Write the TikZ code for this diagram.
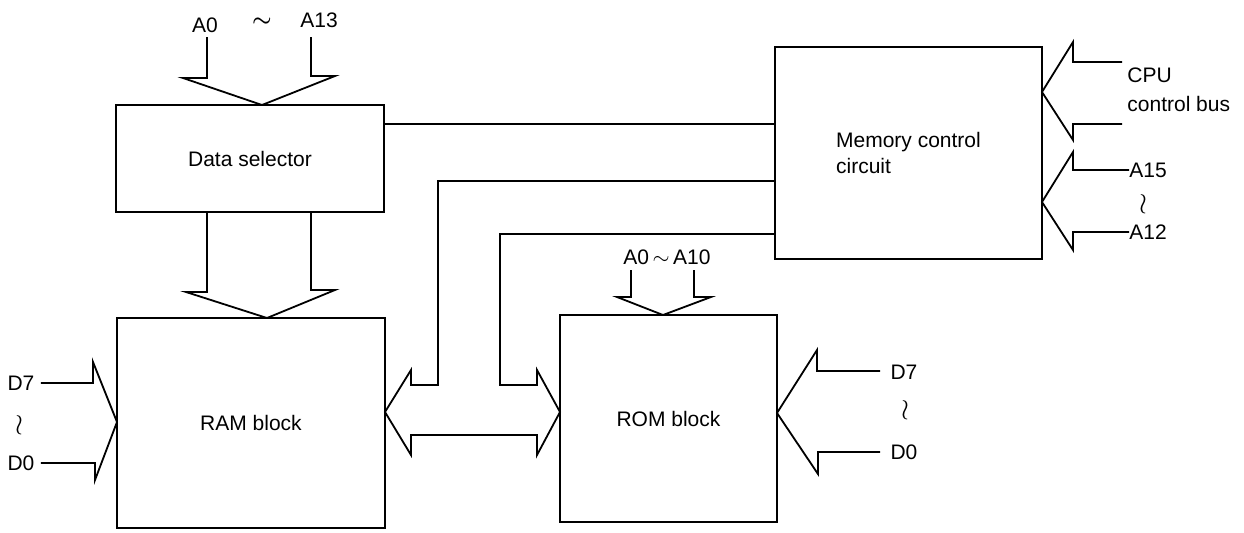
\documentclass[tikz,border=0pt]{standalone}
\usepackage{fontspec}
\setmainfont{Liberation Sans}
\usetikzlibrary{calc}
\begin{document}
\begin{tikzpicture}[x=0.5pt,y=-0.5pt,
  box/.style={draw,line width=0.9pt,inner sep=0pt,font=\fontsize{10.5}{13}\selectfont},
  bus/.style={draw,line width=0.9pt,line join=miter},
  wire/.style={draw,line width=0.9pt},
  lbl/.style={inner sep=0pt,font=\fontsize{10.5}{13}\selectfont},
  wrlbl/.style={inner sep=0pt,font=\fontsize{14}{16}\selectfont}]
\useasboundingbox (0,0) rectangle (1244,532);
\fill[white] (0,0) rectangle (1244,532);

% blocks
\node[box,minimum width=134pt,minimum height=53.5pt] (ds) at (250,158.5) {Data selector};
\node[box,minimum width=134pt,minimum height=105pt] (ram) at (251,423) {RAM block};
\node[box,minimum width=108.5pt,minimum height=103.5pt] (rom) at (668.5,418.5) {ROM block};
\node[box,minimum width=133.5pt,minimum height=106pt,align=left] (mcc) at (908.5,153) {Memory control\\circuit};

% labels
\node[lbl] (a0) at (205,25) {A0};
\node[lbl] (til1) at (262,22) {{\boldmath$\sim$}};
\node[lbl] (a13) at (319,20) {A13};
\node[lbl] (rd7) at (21,383) {D7};
\node[wrlbl] (rwr) at (20,425) {$\wr$};
\node[lbl] (rd0) at (21,463) {D0};
\node[lbl] (ra) at (667,257) {A0\,$\sim$\,A10};
\node[lbl] (od7) at (904,372) {D7};
\node[wrlbl] (owr) at (905,410) {$\wr$};
\node[lbl] (od0) at (904,452) {D0};
\node[lbl,anchor=west] (cpu) at (1127,75) {CPU};
\node[lbl,anchor=west] (cbus) at (1127,104) {control bus};
\node[lbl,anchor=west] (a15) at (1129,170) {A15};
\node[wrlbl] (awr) at (1143,204) {$\wr$};
\node[lbl,anchor=west] (a12) at (1129,232) {A12};

% bus arrows
\coordinate (dsin) at (262,105);
\path[bus] (207,37) -- (207,78) -- (183,78) -- (dsin) -- (335,76) -- (311,76) -- (311,37);
\coordinate (ramin) at (267,318);
\path[bus] (207,212) -- (207,292) -- (186,292) -- (ramin) -- (335,290) -- (311,290) -- (311,212);
\coordinate (raml) at (117,422);
\path[bus] ($(rd7.east)+(6,0)$) -- (93,383) -- (93,362) -- (raml) -- (95,480) -- (95,463) -- ($(rd0.east)+(6,0)$);
\coordinate (romt) at (663,315);
\path[bus] (631,270) -- (631,297) -- (617,297) -- (romt) -- (711,297) -- (694,297) -- (694,270);
\coordinate (romr) at (777,413);
\path[bus] (880,371) -- (817,371) -- (817,350) -- (romr) -- (818,474) -- (818,452) -- (880,452);
\coordinate (mcc1) at (1042,92);
\path[bus] (1122,62) -- (1073,62) -- (1073,42) -- (mcc1) -- (1073,140) -- (1073,124) -- (1122,124);
\coordinate (mcc2) at (1042,202);
\path[bus] (a15.west) -- (1073,170) -- (1073,152) -- (mcc2) -- (1073,250) -- (1073,232) -- (a12.west);

% RAM <-> ROM bus with control wires
\coordinate (rame) at (385,412);
\coordinate (romw) at (560,412);
\coordinate (w2) at (775,181);
\coordinate (w3) at (775,234);
\path[bus] (w2) -- (438,181) -- (438,385) -- (411,385) -- (411,370) -- (rame) -- (411,455) -- (411,435)
  -- (537,435) -- (537,455) -- (romw) -- (537,370) -- (537,385) -- (500,385) -- (500,234) -- (w3);

% data selector to memory control
\coordinate (w1) at (384,124);
\path[wire] (ds.east |- w1) -- (mcc.west |- w1);
\end{tikzpicture}
\end{document}
